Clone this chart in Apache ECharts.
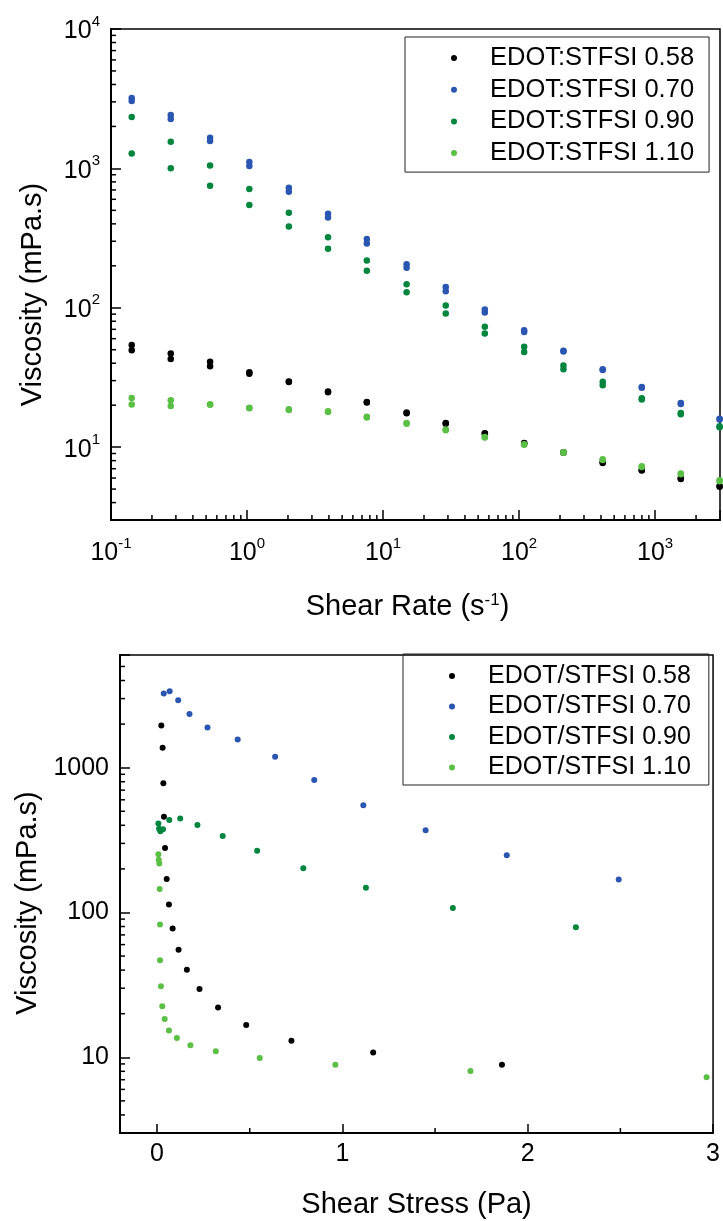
<!DOCTYPE html>
<html><head><meta charset="utf-8">
<script src="https://cdn.jsdelivr.net/npm/echarts@6/dist/echarts.min.js"></script>
<style>html,body{margin:0;padding:0;background:#fff}#c{width:723px;height:1221px}</style>
</head><body><div id="c"></div>
<script>
// ---------- Top chart: viscosity vs shear rate (two runs per sample) ----------
const shearRate = [0.142, 0.275, 0.535, 1.04, 2.03, 3.94, 7.6, 14.9, 28.9, 56, 109, 212, 412, 798, 1545, 2980];
const visc058A = [54, 47, 40.9, 34.5, 29.6, 25.1, 21.1, 17.7, 14.9, 12.6, 10.7, 9.2, 7.8, 6.85, 5.98, 5.26];
const visc058B = [49.6, 42.8, 38.1, 33.6, 29.3, 24.8, 20.9, 17.5, 14.7, 12.5, 10.6, 9.1, 7.7, 6.8, 5.9, 5.2];
const visc070A = [3200, 2415, 1660, 1110, 726, 472, 312, 205, 141, 97.2, 69, 49.1, 36.2, 27, 20.7, 16.0];
const visc070B = [3040, 2260, 1570, 1040, 680, 445, 289, 194, 131.6, 92.5, 67, 48.5, 35.8, 26.7, 20.4, 15.8];
const visc090A = [2335, 1553, 1050, 710, 480, 321, 218, 147.6, 103.7, 73, 52.4, 38.5, 29.4, 22.4, 17.6, 14.1];
const visc090B = [1280, 1000, 750, 545, 383, 265, 184, 129, 91, 65.3, 48.2, 36.2, 27.8, 22.0, 17.2, 13.9];
const visc110A = [22.5, 21.7, 20.3, 19.2, 18.7, 18.1, 16.5, 14.9, 13.4, 11.8, 10.5, 9.2, 8.2, 7.3, 6.46, 5.78];
const visc110B = [20.2, 19.7, 20.1, 19.0, 18.5, 17.9, 16.3, 14.7, 13.2, 11.7, 10.4, 9.1, 8.1, 7.2, 6.4, 5.7];
const topNames = ['EDOT:STFSI 0.58', 'EDOT:STFSI 0.70', 'EDOT:STFSI 0.90', 'EDOT:STFSI 1.10'];

// ---------- Bottom chart: viscosity vs shear stress ----------
const stress058 = [0.023, 0.030, 0.034, 0.037, 0.043, 0.052, 0.064, 0.084, 0.116, 0.161, 0.229, 0.329, 0.481, 0.725, 1.166, 1.861];
const viscS058  = [1958, 1374, 780, 459, 279, 170.6, 113.6, 77.6, 55.2, 40.2, 29.6, 22.1, 16.7, 13.0, 10.8, 8.89];
const stress070 = [0.036, 0.068, 0.114, 0.175, 0.272, 0.435, 0.637, 0.848, 1.113, 1.449, 1.887, 2.491];
const viscS070  = [3250, 3375, 2925, 2345, 1896, 1566, 1191, 822, 550, 370, 248, 168.7];
const stress090 = [0.007, 0.011, 0.018, 0.032, 0.066, 0.125, 0.218, 0.354, 0.540, 0.789, 1.127, 1.596, 2.260];
const viscS090  = [411, 379, 364, 375, 435, 445, 402, 338, 267, 202, 148, 107.6, 79.2];
const stress110 = [0.007, 0.009, 0.012, 0.014, 0.016, 0.016, 0.021, 0.028, 0.041, 0.064, 0.107, 0.180, 0.317, 0.554, 0.962, 1.691, 2.965];
const viscS110  = [252, 231, 218, 145, 82.6, 46.7, 30.9, 22.5, 18.4, 15.3, 13.6, 12.1, 11.0, 9.89, 8.89, 8.05, 7.28];
const bottomNames = ['EDOT/STFSI 0.58', 'EDOT/STFSI 0.70', 'EDOT/STFSI 0.90', 'EDOT/STFSI 1.10'];

// ---------- Axis tick definitions ----------
const rateDecades = [0.1, 1, 10, 100, 1000];
const viscDecades = [1, 10, 100, 1000];
const minorMultipliers = [2, 3, 4, 5, 6, 7, 8, 9];
const stressMinor = [0.5, 1.5, 2.5];

const colors = ['#000000', '#2a56b2', '#00853e', '#5bbf45'];
const FONT = 'Liberation Sans, Arial, sans-serif';

const chart = echarts.init(document.getElementById('c'), null, {renderer: 'canvas'});

function pairs(xs, ys) { return xs.map((x, i) => [x, ys[i]]); }

function minorValues(decades, lo, hi) {
  const out = [];
  decades.forEach(d => minorMultipliers.forEach(m => { const v = d * m; if (v > lo * 1.0001 && v < hi * 0.9999) out.push(v); }));
  return out;
}

const topX = {min: 0.1, max: 3000}, topY = {min: 3, max: 10000};
const botX = {min: -0.2, max: 3}, botY = {min: 3, max: 6000};

const topMinorData = minorValues(rateDecades, topX.min, topX.max).map(v => [v, topY.min, 0])
  .concat(minorValues(viscDecades, topY.min, topY.max).map(v => [topX.min, v, 1]));
const botMinorData = stressMinor.map(v => [v, botY.min, 0])
  .concat(minorValues(viscDecades, botY.min, botY.max).map(v => [botX.min, v, 1]));

function minorTick(params, api) {
  const p = api.coord([api.value(0), api.value(1)]);
  const kind = api.value(2);
  const shape = kind === 0 ? {x1: p[0], y1: p[1], x2: p[0], y2: p[1] - 5} : {x1: p[0], y1: p[1], x2: p[0] + 5, y2: p[1]};
  return {type: 'line', shape: shape, style: {stroke: '#000', lineWidth: 1.5}};
}

function powLabel(v) {
  const e = Math.round(Math.log10(v));
  if (Math.abs(Math.log10(v) - e) > 1e-6) return '';
  return '{b|10}{s|' + e + '}';
}
const powRich = {
  b: {fontSize: 25, fontFamily: FONT, color: '#000', lineHeight: 30, verticalAlign: 'bottom'},
  s: {fontSize: 15, fontFamily: FONT, color: '#000', lineHeight: 16, verticalAlign: 'top'}
};

const axisLine = {show: true, onZero: false, lineStyle: {color: '#000', width: 2}};
const majorTick = {show: true, inside: true, length: 10, lineStyle: {color: '#000', width: 1.5}};

const legendCommon = {
  orient: 'vertical', icon: 'circle', itemWidth: 6, itemHeight: 6,
  borderColor: '#222', borderWidth: 1, selectedMode: false,
  textStyle: {fontSize: 25.5, fontFamily: FONT, color: '#000', lineHeight: 26, padding: [0, 0, 0, 28]}
};

const topVisc = [[visc058A, visc058B], [visc070A, visc070B], [visc090A, visc090B], [visc110A, visc110B]];
const botData = [[stress058, viscS058], [stress070, viscS070], [stress090, viscS090], [stress110, viscS110]];

const series = [];
topVisc.forEach((runs, i) => series.push({
  name: topNames[i], type: 'scatter', xAxisIndex: 0, yAxisIndex: 0,
  symbol: 'circle', symbolSize: 6.5, itemStyle: {color: colors[i], opacity: 1},
  data: pairs(shearRate, runs[0]).concat(pairs(shearRate, runs[1]))
}));
botData.forEach((d, i) => series.push({
  name: bottomNames[i], type: 'scatter', xAxisIndex: 1, yAxisIndex: 1,
  symbol: 'circle', symbolSize: 6, itemStyle: {color: colors[i], opacity: 1},
  data: pairs(d[0], d[1])
}));
series.push({type: 'custom', xAxisIndex: 0, yAxisIndex: 0, silent: true, clip: false, z: 5, renderItem: minorTick, data: topMinorData});
series.push({type: 'custom', xAxisIndex: 1, yAxisIndex: 1, silent: true, clip: false, z: 5, renderItem: minorTick, data: botMinorData});

chart.setOption({
  animation: false,
  backgroundColor: '#fff',
  textStyle: {fontFamily: FONT},
  grid: [
    {left: 111, top: 29, width: 609, height: 491, show: true, borderColor: '#000', borderWidth: 1.5, backgroundColor: 'transparent'},
    {left: 120, top: 655, width: 594, height: 478, show: true, borderColor: '#000', borderWidth: 1.5, backgroundColor: 'transparent'}
  ],
  legend: [
    Object.assign({}, legendCommon, {left: 405, top: 37, data: topNames, itemGap: 5.7, padding: [8, 15, 6, 46]}),
    Object.assign({}, legendCommon, {left: 403, top: 654, data: bottomNames, itemGap: 4.5, padding: [9, 18, 4.5, 46],
      textStyle: Object.assign({}, legendCommon.textStyle, {fontSize: 25})})
  ],
  xAxis: [
    {type: 'log', logBase: 10, gridIndex: 0, min: topX.min, max: topX.max, splitNumber: 4,
     axisLine: axisLine, axisTick: majorTick, splitLine: {show: false}, minorTick: {show: false},
     axisLabel: {margin: 16, formatter: powLabel, rich: powRich},
     name: 'Shear Rate (s{s|-1})', nameLocation: 'middle', nameGap: 72,
     nameTextStyle: {fontSize: 29, fontFamily: FONT, color: '#000', padding: [0, 16, 0, 0],
       rich: {s: {fontSize: 17, fontFamily: FONT, color: '#000', verticalAlign: 'top', lineHeight: 18}}}},
    {type: 'value', gridIndex: 1, min: botX.min, max: botX.max, splitNumber: 3,
     axisLine: axisLine, axisTick: Object.assign({}, majorTick, {length: 9}), splitLine: {show: false},
     axisLabel: {margin: 9, fontSize: 25, color: '#000', fontFamily: FONT,
       formatter: v => (Math.abs(v - Math.round(v)) < 1e-9 ? String(Math.round(v)) : '')},
     name: 'Shear Stress (Pa)', nameLocation: 'middle', nameGap: 57,
     nameTextStyle: {fontSize: 29, fontFamily: FONT, color: '#000'}}
  ],
  yAxis: [
    {type: 'log', logBase: 10, gridIndex: 0, min: topY.min, max: topY.max, splitNumber: 3,
     axisLine: axisLine, axisTick: majorTick, splitLine: {show: false}, minorTick: {show: false},
     axisLabel: {margin: 11, formatter: powLabel, rich: powRich},
     name: 'Viscosity (mPa.s)', nameLocation: 'middle', nameGap: 64,
     nameTextStyle: {fontSize: 29, fontFamily: FONT, color: '#000', padding: [0, 40, 0, 0]}},
    {type: 'log', logBase: 10, gridIndex: 1, min: botY.min, max: botY.max, splitNumber: 3,
     axisLine: axisLine, axisTick: majorTick, splitLine: {show: false}, minorTick: {show: false},
     axisLabel: {margin: 11, fontSize: 25, color: '#000', fontFamily: FONT,
       formatter: v => { const e = Math.round(Math.log10(v)); return Math.abs(Math.log10(v) - e) < 1e-6 ? String(Math.round(Math.pow(10, e))) : ''; }},
     name: 'Viscosity (mPa.s)', nameLocation: 'middle', nameGap: 73,
     nameTextStyle: {fontSize: 29, fontFamily: FONT, color: '#000', padding: [0, 18, 0, 0]}}
  ],
  series: series
});
</script></body></html>
